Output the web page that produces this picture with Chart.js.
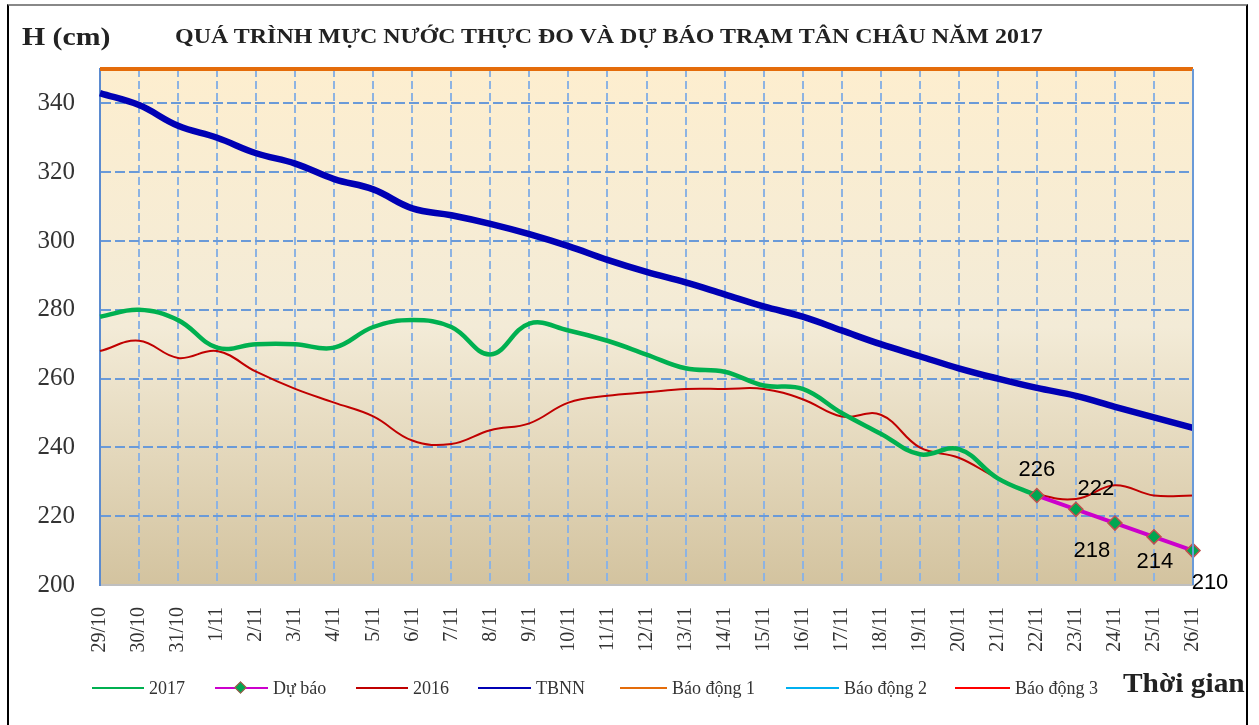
<!DOCTYPE html>
<html><head><meta charset="utf-8">
<script src="https://cdn.jsdelivr.net/npm/chart.js@4.4.1/dist/chart.umd.min.js"></script>
<style>
body{margin:0;width:1259px;height:725px;overflow:hidden;background:#fff;position:relative;font-family:'Liberation Serif','Times New Roman',serif;}
#frame{position:absolute;left:7px;top:4px;width:1241px;height:760px;border-left:2px solid #000;border-right:2px solid #000;border-top:2px solid #888;box-sizing:border-box;}
#c{position:absolute;left:0;top:0;}
#title{position:absolute;left:175px;top:24px;font-weight:bold;font-size:21px;color:#222;white-space:nowrap;transform-origin:0 0;}
#hcm{position:absolute;left:22px;top:23px;font-weight:bold;font-size:25px;color:#222;white-space:nowrap;transform-origin:0 0;}
#tg{position:absolute;left:1123px;top:668px;font-weight:bold;font-size:27px;color:#222;white-space:nowrap;transform-origin:0 0;}
.lg-line{position:absolute;height:2px;}
.lg-text{position:absolute;font-size:18px;color:#333;white-space:nowrap;line-height:20px;}
.lg-dia{position:absolute;width:7px;height:7px;background:#00a651;border:1px solid #c0504d;transform:rotate(45deg);}
</style></head>
<body>
<div id="frame"></div>
<canvas id="c" width="1259" height="725"></canvas>
<div id="hcm">H (cm)</div>
<div id="title">QUÁ TRÌNH MỰC NƯỚC THỰC ĐO VÀ DỰ BÁO TRẠM TÂN CHÂU NĂM 2017</div>
<div id="tg">Thời gian</div>
<script>
const categories = ['29/10','30/10','31/10','1/11','2/11','3/11','4/11','5/11','6/11','7/11','8/11','9/11','10/11','11/11','12/11','13/11','14/11','15/11','16/11','17/11','18/11','19/11','20/11','21/11','22/11','23/11','24/11','25/11','26/11'];
const seriesNames = ['2017','Dự báo','2016','TBNN','Báo động 1','Báo động 2','Báo động 3'];
const v2017 = [278,280,277,269,270,270,269,275,277,275,267,276,274,271,267,263,262,258,257,250,244,238,239.5,231,226,null,null,null,null];
const vDuBao = [null,null,null,null,null,null,null,null,null,null,null,null,null,null,null,null,null,null,null,null,null,null,null,null,226,222,218,214,210];
const v2016 = [268,271,266,268,262,257,253,249,242,241,245,247,253,255,256,257,257,257,254,249,249.5,240,237,231,226.5,225,229,226,226];
const vTBNN = [343,339.5,333.5,330,325.5,322.5,318,315,309.5,307.5,305,302,298.5,294.5,291,288,284.5,281,278,274,270,266.5,263,260,257.3,255,251.8,248.7,245.7];
const vBD1 = categories.map(() => 350);
const vBD2 = categories.map(() => 400);
const vBD3 = categories.map(() => 450);
const yTicks = [200,220,240,260,280,300,320,340];

const colors = ['#00b050','#cc00cc','#c00000','#0000b4','#e46c0a','#00b0f0','#ff0000'];

// HTML legend
const lgLines = [92,215,356,478,620,786,955];
const lgTexts = [149,273,413,536,672,844,1015];
seriesNames.forEach((n,i)=>{
  const l=document.createElement('div');l.className='lg-line';
  l.style.left=lgLines[i]+'px';l.style.top='687px';l.style.width=(lgTexts[i]-lgLines[i]-5)+'px';l.style.background=colors[i];
  document.body.appendChild(l);
  if(i===1){const d=document.createElement('div');d.className='lg-dia';d.style.left=(lgLines[i]+21)+'px';d.style.top='683px';document.body.appendChild(d);}
  const t=document.createElement('div');t.className='lg-text';t.textContent=n;t.style.left=lgTexts[i]+'px';t.style.top='678px';
  document.body.appendChild(t);
});
// fit text widths
function fitW(id,w){const e=document.getElementById(id);e.style.transform='scaleX('+(w/e.offsetWidth)+')';}
fitW('title',868);fitW('hcm',88);fitW('tg',122);

const bgPlugin = {
  id:'bg',
  beforeDraw(chart){
    const {ctx, chartArea:a} = chart;
    const g = ctx.createLinearGradient(0,a.top,0,a.bottom);
    g.addColorStop(0,'#fdeecf');
    g.addColorStop(0.5,'#f3ebd7');
    g.addColorStop(1,'#d3c39f');
    ctx.save();ctx.fillStyle=g;ctx.fillRect(a.left,a.top,a.right-a.left,a.bottom-a.top);ctx.restore();
  },
  afterDatasetsDraw(chart){
    const {ctx, chartArea:a} = chart;
    ctx.save();
    ctx.strokeStyle='#6a9ad8';ctx.lineWidth=2;
    ctx.beginPath();ctx.moveTo(a.right,a.top);ctx.lineTo(a.right,a.bottom);ctx.stroke();
    const meta = chart.getDatasetMeta(1);
    const offs = {24:[0,-26],25:[20,-20],26:[-23,28],27:[1,25],28:[17,32]};
    ctx.fillStyle='#000';ctx.font='22px "Liberation Sans", Arial, sans-serif';
    ctx.textAlign='center';ctx.textBaseline='middle';
    meta.data.forEach((p,i)=>{
      const v = vDuBao[i];
      if(v==null||!offs[i]) return;
      ctx.fillText(String(v), p.x+offs[i][0], p.y+offs[i][1]);
    });
    ctx.restore();
  }
};

const ds = (label,data,color,width,order,extra) => Object.assign({label,data,borderColor:color,backgroundColor:color,borderWidth:width,pointRadius:0,tension:0.4,order,spanGaps:false},extra||{});

new Chart(document.getElementById('c'),{
  type:'line',
  data:{
    labels:categories,
    datasets:[
      ds(seriesNames[0],v2017,colors[0],4.5,1),
      ds(seriesNames[1],vDuBao,colors[1],4,0,{tension:0,pointRadius:7,pointStyle:'rectRot',pointBackgroundColor:'#00a651',pointBorderColor:'#c0504d',pointBorderWidth:1.5}),
      ds(seriesNames[2],v2016,colors[2],2,2),
      ds(seriesNames[3],vTBNN,colors[3],6.5,3),
      ds(seriesNames[4],vBD1,colors[4],4,4,{tension:0,clip:4}),
      ds(seriesNames[5],vBD2,colors[5],2,5,{tension:0}),
      ds(seriesNames[6],vBD3,colors[6],2,6,{tension:0})
    ]
  },
  options:{
    responsive:false,animation:false,
    layout:{padding:{left:0,top:69,right:66,bottom:40}},
    plugins:{legend:{display:false},title:{display:false},tooltip:{enabled:false}},
    scales:{
      x:{
        offset:false,
        grid:{color:'#8db3e2',lineWidth:2,drawTicks:false},
        border:{color:'#bfbfbf',width:2,dash:[8,4]},
        ticks:{autoSkip:false,maxRotation:90,minRotation:90,padding:22,color:'#333',font:{family:'"Liberation Serif", "Times New Roman", serif',size:20}},
        afterFit(s){s.height=100;}
      },
      y:{
        min:200,max:350,
        afterBuildTicks(s){s.ticks=yTicks.map(v=>({value:v}));},
        grid:{color:'#6a9ad8',lineWidth:2,drawTicks:false},
        border:{color:'#5b8bd0',width:2,dash:[10,4]},
        ticks:{padding:25,color:'#333',font:{family:'"Liberation Serif", "Times New Roman", serif',size:25}},
        afterFit(s){s.width=100;}
      }
    }
  },
  plugins:[bgPlugin]
});
</script>
</body></html>
